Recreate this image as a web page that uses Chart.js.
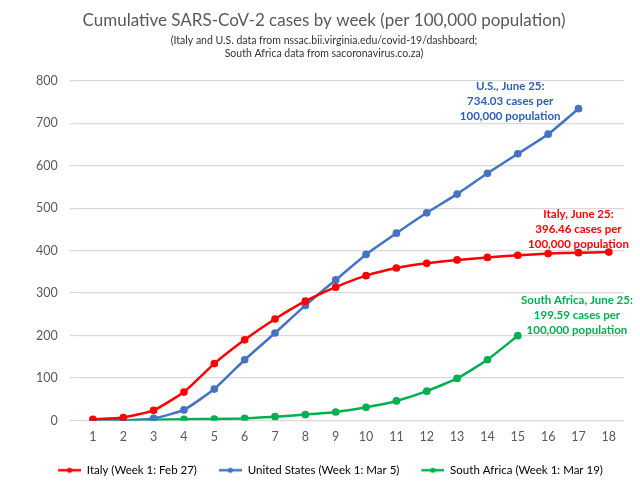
<!DOCTYPE html>
<html>
<head>
<meta charset="utf-8">
<script src="https://cdn.jsdelivr.net/npm/chart.js@4.4.1/dist/chart.umd.min.js"></script>
<style>
  html, body { margin: 0; padding: 0; background: #fff; }
  #wrap { width: 640px; height: 490px; }
</style>
</head>
<body>
<div id="wrap"><canvas id="chart" width="640" height="490"></canvas></div>
<script>
let weeks = ["1","2","3","4","5","6","7","8","9","10","11","12","13","14","15","16","17","18"];

let italy = [2.5, 7, 24, 67, 134, 190, 239, 281, 314, 341, 359, 370, 378, 384, 389, 393, 395, 396.46];
let usa = [0.3, 0.5, 5, 25, 74, 143, 206, 271, 331, 391, 441, 489, 533, 582, 628, 674, 734.03, null];
let southAfrica = [0.2, 0.5, 1.5, 3, 3.5, 5, 9, 14, 20, 31, 46, 69, 99, 143, 199.59, null, null, null];

let seriesNames = ["Italy (Week 1: Feb 27)", "United States (Week 1: Mar 5)", "South Africa (Week 1: Mar 19)"];
let colors = ["#FF0000", "#4472C4", "#00B050"];

// end-of-line notes: [text lines, category index (0-based, may be fractional), value, colour]
let notes = [
    [["U.S., June 25:", "734.03 cases per", "100,000 population"], 13.75, 788, "#2F5EB8"],
    [["Italy, June 25:", "396.46 cases per", "100,000 population"], 16.0, 486, "#FF0000"],
    [["South Africa, June 25:", "199.59 cases per", "100,000 population"], 15.95, 284, "#00B050"]
];

function legendMark(color)
{
    // transparent left part acts as the gap between legend items
    let c = document.createElement("canvas");
    c.width = 36; c.height = 8;
    let g = c.getContext("2d");
    g.strokeStyle = color;
    g.lineWidth = 2.5;
    g.beginPath(); g.moveTo(13, 4); g.lineTo(36, 4); g.stroke();
    g.fillStyle = color;
    g.beginPath(); g.arc(24.5, 4, 2.6, 0, Math.PI * 2); g.fill();
    return c;
}

function xAt(scale, v)
{
    let i = Math.floor(v);
    let a = scale.getPixelForValue(i);
    let b = scale.getPixelForValue(i + 1);
    return a + (b - a) * (v - i);
}

let notePlugin = {
    id: "notes",
    afterDatasetsDraw(chart)
    {
        let ctx = chart.ctx;
        let xs = chart.scales.x, ys = chart.scales.y;
        ctx.save();
        ctx.font = "bold 11.5px Lato";
        ctx.textAlign = "center";
        ctx.textBaseline = "middle";
        notes.forEach(function(n)
        {
            let x = xAt(xs, n[1]);
            let y = ys.getPixelForValue(n[2]);
            ctx.fillStyle = n[3];
            for (let i = 0; i < n[0].length; i++)
            {
                ctx.fillText(n[0][i], x, y + i * 15.3);
            }
        });
        ctx.restore();
    }
};

let sets = [italy, usa, southAfrica].map(function(d, i)
{
    return {
        label: seriesNames[i],
        data: d,
        borderColor: colors[i],
        backgroundColor: colors[i],
        borderWidth: 2.5,
        pointRadius: 2.6,
        pointHoverRadius: 2.6,
        tension: 0.15
    };
});

let myChart = document.getElementById("chart").getContext("2d");
let display = new Chart(myChart,
{
    type: "line",
    data: { labels: weeks, datasets: sets },
    plugins: [notePlugin],
    options:
    {
        responsive: false,
        animation: false,
        layout: { padding: { left: 24, right: 16, top: 10, bottom: 4 } },
        plugins:
        {
            title:
            {
                display: true,
                text: "Cumulative SARS-CoV-2 cases by week (per 100,000 population)",
                color: "#595959",
                font: { family: "Lato", size: 17, weight: "normal" },
                padding: { top: 0, bottom: 3 }
            },
            subtitle:
            {
                display: true,
                text: ["(Italy and U.S. data from nssac.bii.virginia.edu/covid-19/dashboard;", "South Africa data from sacoronavirus.co.za)"],
                color: "#333333",
                font: { family: "Lato", size: 10.5, lineHeight: 1.3 },
                padding: { bottom: 20 }
            },
            legend:
            {
                position: "bottom",
                labels:
                {
                    color: "#595959",
                    font: { family: "Lato", size: 11.5 },
                    usePointStyle: true,
                    pointStyleWidth: 36,
                    padding: 9,
                    generateLabels: function(chart)
                    {
                        return chart.data.datasets.map(function(ds, i)
                        {
                            return {
                                text: ds.label,
                                pointStyle: legendMark(colors[i]),
                                fillStyle: colors[i],
                                strokeStyle: colors[i],
                                lineWidth: 0,
                                datasetIndex: i
                            };
                        });
                    }
                }
            },
            tooltip: { enabled: false }
        },
        scales:
        {
            x:
            {
                offset: true,
                grid: { display: false, drawTicks: false },
                border: { display: false },
                ticks: { color: "#595959", font: { family: "Lato", size: 12.5 }, padding: 9 },
                afterFit: function(scale) { scale.height = 35; }
            },
            y:
            {
                min: 0,
                max: 800,
                ticks: { stepSize: 100, color: "#595959", font: { family: "Lato", size: 12.5 }, padding: 12 },
                grid: { color: "#D9D9D9", lineWidth: 1.2 },
                border: { display: false }
            }
        }
    }
});
</script>
</body>
</html>
